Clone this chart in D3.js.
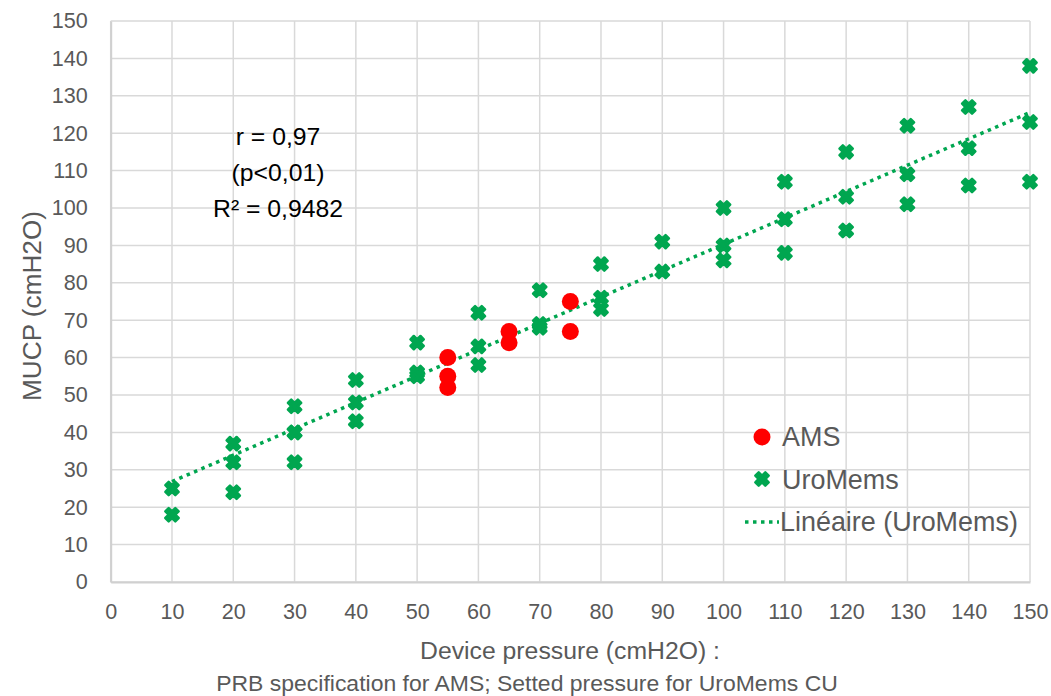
<!DOCTYPE html>
<html>
<head>
<meta charset="utf-8">
<script src="https://cdn.jsdelivr.net/npm/d3@7"></script>
<style>
  body { margin: 0; background: #fff; font-family: "Liberation Sans", Arial, sans-serif; }
  svg { display: block; }
</style>
</head>
<body>
<svg id="chart"></svg>
<script>
// UroMems: device pressure (x) vs MUCP (y)
let uroX = [10,10, 20,20,20, 30,30,30,30, 40,40,40, 50,50,50, 60,60,60, 70,70,70,
            80,80,80, 90,90, 100,100,100, 110,110,110, 120,120,120, 130,130,130,
            140,140,140, 150,150,150]
let uroY = [25,18, 37,32,24, 47,40,40,32, 54,48,43, 64,56,55, 72,63,58, 78,69,68,
            85,76,73, 91,83, 100,90,86, 107,97,88, 115,103,94, 122,109,101,
            127,116,106, 138,123,107]
// AMS: PRB specification vs MUCP
let amsX = [55,55,55, 65,65, 75,75]
let amsY = [60,55,52, 67,64, 75,67]

let xTicks = d3.range(0, 151, 10)
let yTicks = d3.range(0, 151, 10)
let statLines = ["r = 0,97", "(p<0,01)", "R\u00b2 = 0,9482"]
let legendLabels = ["AMS", "UroMems", "Linéaire (UroMems)"]

let width = 1051, height = 696
let margin = { top: 21, left: 110.7, right: 21, bottom: 114 }
let green = "#00a650", red = "#ff0000", grey = "#595959"

let svg = d3.select("#chart").attr("width", width).attr("height", height)

// size a text so that it spans the wanted width
function fitText(sel, target) {
  let w = sel.node().getComputedTextLength()
  let fs = parseFloat(sel.style("font-size"))
  let size = fs * target / w
  sel.style("font-size", size + "px")
  return size
}

let x = d3.scaleLinear().domain([0, 150]).range([margin.left, width - margin.right])
let y = d3.scaleLinear().domain([0, 150]).range([height - margin.bottom, margin.top])

// grid
svg.append("g").selectAll("line").data(yTicks).enter().append("line")
  .attr("x1", x(0)).attr("x2", x(150))
  .attr("y1", d => y(d)).attr("y2", d => y(d))
  .attr("stroke", "#d9d9d9").attr("stroke-width", 1.5)
svg.append("g").selectAll("line").data(xTicks).enter().append("line")
  .attr("x1", d => x(d)).attr("x2", d => x(d))
  .attr("y1", y(0)).attr("y2", y(150))
  .attr("stroke", "#d9d9d9").attr("stroke-width", 1.5)

// axes
let axisX = d3.axisBottom(x).tickValues(xTicks).tickSize(0).tickPadding(22)
let gx = svg.append("g").attr("transform", `translate(0,${y(0)})`).call(axisX)
let axisY = d3.axisLeft(y).tickValues(yTicks).tickSize(0).tickPadding(23)
let gy = svg.append("g").attr("transform", `translate(${x(0)},0)`).call(axisY)
gx.select(".domain").attr("stroke", "#d0d0d0").attr("stroke-width", 2)
gy.select(".domain").attr("stroke", "#d0d0d0").attr("stroke-width", 2)
let ticks = svg.selectAll(".tick text").attr("fill", grey).style("font-size", "20px")
  .style("font-family", "Liberation Sans, Arial, sans-serif")
// scale tick font so "150" is ~37px wide
let probe = svg.append("text").style("font-size", "20px").text("150")
let tickSize = fitText(probe, 36)
probe.remove()
ticks.style("font-size", tickSize + "px")

// axis titles
fitText(svg.append("text").attr("x", 570).attr("y", 659).attr("text-anchor", "middle")
  .attr("fill", grey).style("font-size", "21px").text("Device pressure (cmH2O) :"), 300)
fitText(svg.append("text").attr("x", 527).attr("y", 691).attr("text-anchor", "middle")
  .attr("fill", grey).style("font-size", "21px")
  .text("PRB specification for AMS; Setted pressure for UroMems CU"), 622)
fitText(svg.append("text").attr("transform", "translate(41,306) rotate(-90)")
  .attr("text-anchor", "middle").attr("fill", grey).style("font-size", "21px")
  .text("MUCP (cmH2O)"), 190)

// linear trendline (least squares on UroMems)
let mx = d3.mean(uroX), my = d3.mean(uroY)
let slope = d3.sum(uroX, (d, i) => (d - mx) * (uroY[i] - my)) / d3.sum(uroX, d => (d - mx) * (d - mx))
let icpt = my - slope * mx
let xMin = d3.min(uroX), xMax = d3.max(uroX)
svg.append("line")
  .attr("x1", x(xMin)).attr("y1", y(icpt + slope * xMin))
  .attr("x2", x(xMax)).attr("y2", y(icpt + slope * xMax))
  .attr("stroke", green).attr("stroke-width", 3.5).attr("stroke-dasharray", "3.5,4.5")

let cross = d3.symbol().type(d3.symbolCross).size(110)

// UroMems markers
svg.append("g").selectAll("path").data(uroX).enter().append("path")
  .attr("d", cross)
  .attr("transform", (d, i) => `translate(${x(d)},${y(uroY[i])}) rotate(45)`)
  .attr("fill", green).attr("stroke", green).attr("stroke-width", 2.5).attr("stroke-linejoin", "round")

// AMS markers
svg.append("g").selectAll("circle").data(amsX).enter().append("circle")
  .attr("cx", d => x(d)).attr("cy", (d, i) => y(amsY[i])).attr("r", 8.5)
  .attr("fill", red)

// stats annotation
let stats = svg.append("g").selectAll("text").data(statLines).enter().append("text")
  .attr("x", 278).attr("y", (d, i) => 145 + i * 36).attr("text-anchor", "middle")
  .attr("fill", "#000").style("font-size", "22px").text(d => d)
let statSize = fitText(d3.select(stats.nodes()[2]), 130)
stats.style("font-size", statSize + "px")

// legend
let lg = svg.append("g")
lg.append("circle").attr("cx", 762).attr("cy", 437).attr("r", 8.5).attr("fill", red)
lg.append("path").attr("d", cross)
  .attr("transform", "translate(762,479) rotate(45)")
  .attr("fill", green).attr("stroke", green).attr("stroke-width", 2.5).attr("stroke-linejoin", "round")
lg.append("line").attr("x1", 745).attr("x2", 779).attr("y1", 522).attr("y2", 522)
  .attr("stroke", green).attr("stroke-width", 3.5).attr("stroke-dasharray", "3.5,4.5")
let lgText = lg.selectAll("text").data(legendLabels).enter().append("text")
  .attr("x", (d, i) => i < 2 ? 782 : 780).attr("y", (d, i) => 446 + i * 42.5)
  .attr("fill", grey).style("font-size", "22px").text(d => d)
let lgSize = fitText(d3.select(lgText.nodes()[2]), 238)
lgText.style("font-size", lgSize + "px")
</script>
</body>
</html>
